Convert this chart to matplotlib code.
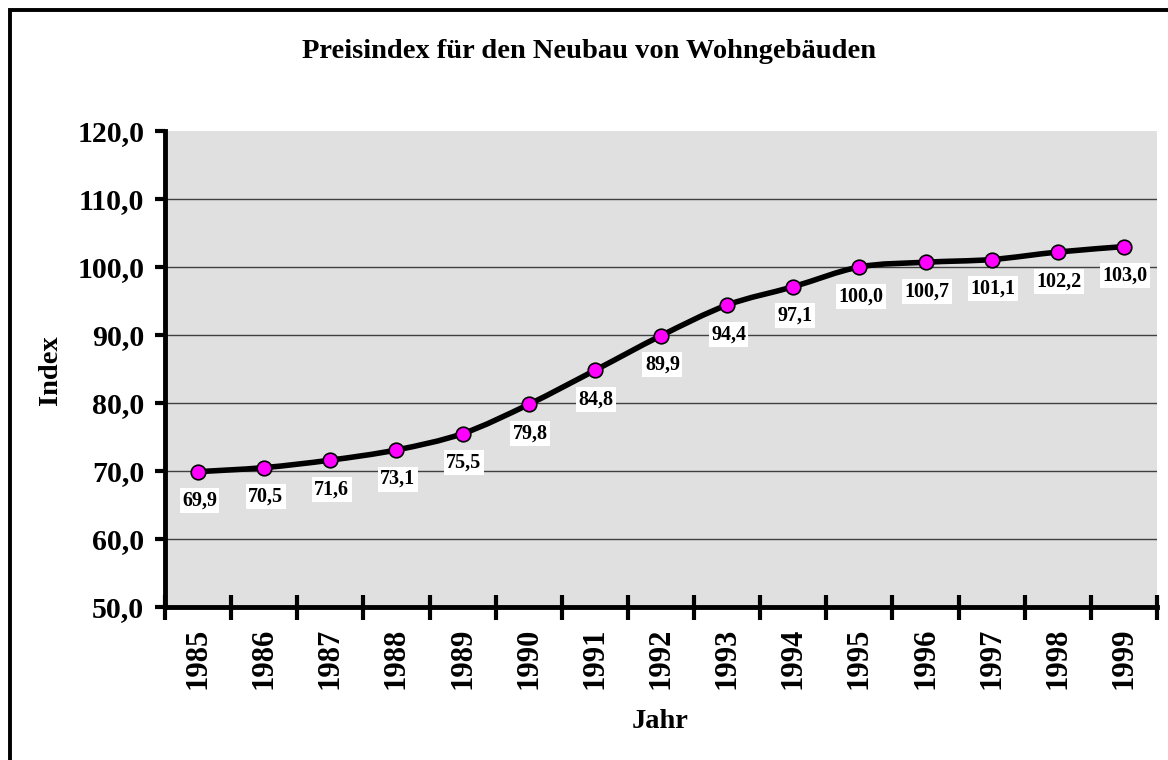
import matplotlib
matplotlib.use("Agg")
import matplotlib.pyplot as plt
from matplotlib.path import Path
from matplotlib.patches import PathPatch, Rectangle
import numpy as np

plt.rcParams['font.family'] = ['Liberation Serif', 'DejaVu Serif']
plt.rcParams['font.weight'] = 'bold'

years = [1985, 1986, 1987, 1988, 1989, 1990, 1991, 1992, 1993, 1994,
         1995, 1996, 1997, 1998, 1999]
index = [69.9, 70.5, 71.6, 73.1, 75.5, 79.8, 84.8, 89.9, 94.4, 97.1,
         100.0, 100.7, 101.1, 102.2, 103.0]

title = "Preisindex für den Neubau von Wohngebäuden"
xlabel = "Jahr"
ylabel = "Index"


def fmt(v):
    return f"{v:.1f}".replace(".", ",")


def smooth_path(x, y, t=1/6):
    # excel-like smoothed line as cubic bezier segments
    x = np.asarray(x, float)
    y = np.asarray(y, float)
    n = len(x)
    verts = [(x[0], y[0])]
    codes = [Path.MOVETO]
    for i in range(n - 1):
        i0 = max(i - 1, 0)
        i3 = min(i + 2, n - 1)
        c1 = (x[i] + (x[i + 1] - x[i0]) * t, y[i] + (y[i + 1] - y[i0]) * t)
        c2 = (x[i + 1] - (x[i3] - x[i]) * t, y[i + 1] - (y[i3] - y[i]) * t)
        verts += [c1, c2, (x[i + 1], y[i + 1])]
        codes += [Path.CURVE4] * 3
    return Path(verts, codes)


fig = plt.figure(figsize=(11.68, 7.6), dpi=100)
ax = fig.add_axes([165 / 1168, 1 - 607 / 760, 992 / 1168, 476 / 760])
ax.set_facecolor("#e0e0e0")

xpos = np.arange(len(years))

for yv in range(60, 120, 10):
    ax.axhline(yv, color="#404040", lw=1.0, zorder=1)

ax.add_patch(PathPatch(smooth_path(xpos, index), facecolor="none",
                       edgecolor="black", lw=4.0, capstyle="round",
                       joinstyle="round", zorder=3))
ax.plot(xpos, index, ls="none", marker="o", ms=10.5, mfc="#ff00ff",
        mec="black", mew=1.2, zorder=4)

for xi, v in zip(xpos, index):
    ax.annotate(fmt(v), (xi, v), xytext=(1, -21), textcoords="offset points",
                ha="center", va="center", fontsize=14.5, fontweight="bold",
                bbox=dict(boxstyle="square,pad=0.12", fc="white", ec="none"),
                zorder=5)

ax.set_xlim(-0.5, len(years) - 0.5)
ax.set_ylim(50, 120)

ax.set_yticks(range(50, 121, 10))
ax.set_yticklabels([fmt(v) for v in range(50, 121, 10)], fontsize=21.5,
                   fontweight="bold")
ax.tick_params(axis="y", direction="out", length=7, width=3, pad=8)

ax.set_xticks(np.arange(-0.5, len(years), 1.0))
ax.set_xticklabels([])
ax.set_xticks(xpos, minor=True)
ax.set_xticklabels([str(y) for y in years], minor=True, rotation=90,
                   fontsize=22, fontweight="bold")
ax.tick_params(axis="x", which="major", direction="inout", length=18, width=3)
ax.tick_params(axis="x", which="minor", length=0, pad=15)

for s in ["top", "right"]:
    ax.spines[s].set_visible(False)
for s in ["left", "bottom"]:
    ax.spines[s].set_linewidth(3.5)
    ax.spines[s].set_zorder(6)

fig.text(589 / 1168, 1 - 51 / 760, title, ha="center", va="center",
         fontsize=20.5, fontweight="bold")
fig.text(660 / 1168, 1 - 722 / 760, xlabel, ha="center", va="center",
         fontsize=20.5, fontweight="bold")
fig.text(50 / 1168, 1 - 370 / 760, ylabel, ha="center", va="center",
         fontsize=20.5, fontweight="bold", rotation=90)

# outer chart frame (cut off at right and bottom)
fig.patches.append(Rectangle((9.5 / 1168, -0.2), 1.2, 1.2 - 9.5 / 760,
                             transform=fig.transFigure, fill=False,
                             ec="black", lw=2.8))

fig.savefig("out.png", dpi=100)
